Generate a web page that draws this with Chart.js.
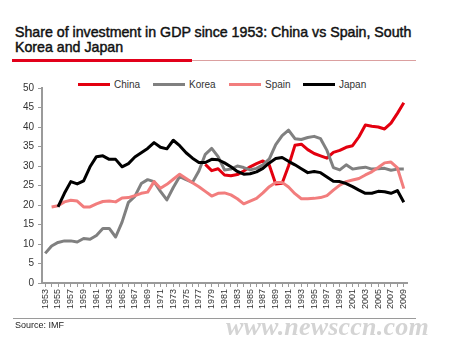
<!DOCTYPE html>
<html>
<head>
<meta charset="utf-8">
<script src="https://cdn.jsdelivr.net/npm/chart.js@4/dist/chart.umd.min.js"></script>
<style>
  html, body { margin: 0; padding: 0; background: #fff; }
  #wrap { position: relative; width: 450px; height: 342px; overflow: hidden; font-family: "Liberation Sans", Arial, sans-serif; }
  #chart { position: absolute; left: 0; top: 0; }
  .title { position: absolute; left: 15px; top: 25px; font-size: 14.2px; line-height: 15px; color: #111; white-space: nowrap; -webkit-text-stroke: 0.45px #111; }
  .rule-red { position: absolute; left: 12px; top: 59px; width: 180px; height: 3px; background: #e2001a; }
  .rule-thin { position: absolute; left: 192px; top: 60px; width: 224px; height: 1px; background: #dba0a0; }
  #legend { position: absolute; top: 78px; left: 0; font-size: 10px; color: #333; }
  #legend .item { position: absolute; display: flex; align-items: center; height: 12px; white-space: nowrap; }
  #legend .swatch { width: 32px; height: 3px; margin-right: 4px; }
  .rule-bottom { position: absolute; left: 13px; top: 318px; width: 403px; height: 1px; background: #9a9a9a; }
  .source { position: absolute; left: 15px; top: 320px; font-size: 9px; color: #222; }
  .mark { position: absolute; left: 226px; top: 312px; font-family: "Liberation Serif", "Times New Roman", serif; font-style: italic; font-weight: bold; font-size: 26px; color: #d4d4d4; letter-spacing: 0.2px; }
</style>
</head>
<body>
<div id="wrap">
  <div class="title">Share of investment in GDP since 1953: China vs Spain, South<br>Korea and Japan</div>
  <div class="rule-red"></div>
  <div class="rule-thin"></div>
  <div id="legend"></div>
  <canvas id="chart" width="450" height="342"></canvas>
  <div class="rule-bottom"></div>
  <div class="source">Source: IMF</div>
  <div class="mark">www.newsccn.com</div>
</div>
<script>
// investment as % of GDP, one value per year
const years = [];
for (let y = 1953; y <= 2009; y++) years.push(String(y));

const china = [
  null, null, null, null, null, null, null, null, null, null,
  null, null, null, null, null, null, null, null, null, null,
  null, null, null, null, null,
  30.4, 28.8, 29.3, 27.7, 27.5, 27.8, 28.7, 29.8, 30.6, 31.3,
  30.2, 25.4, 25.6, 30.0, 35.3, 35.6, 34.2, 33.2, 32.6, 32.0,
  33.5, 34.0, 34.8, 35.2, 37.5, 40.5, 40.2, 40.0, 39.5, 41.0,
  43.5, 46.2
];
const korea = [
  7.6, 9.5, 10.4, 10.8, 10.8, 10.5, 11.4, 11.2, 12.2, 14.0,
  14.0, 11.8, 15.6, 20.7, 22.2, 25.5, 26.5, 26.0, 23.5, 21.3,
  24.5, 27.3, 26.5, 25.8, 28.7, 33.0, 34.5, 32.4, 29.0, 29.2,
  30.0, 29.6, 29.0, 29.4, 30.3, 31.8, 35.5, 37.8, 39.2, 37.0,
  36.8, 37.3, 37.6, 37.0, 34.0, 29.6, 29.0, 30.3, 29.2, 29.5,
  29.7, 29.2, 29.3, 29.4, 28.9, 29.2, 29.2
];
const spain = [
  null, 19.5, 19.8, 20.8, 21.2, 21.0, 19.5, 19.5, 20.3, 20.9,
  21.0, 20.8, 21.8, 21.9, 22.4, 23.0, 23.3, 26.0, 24.3, 25.3,
  26.6, 27.9, 26.8, 25.7, 24.7, 23.5, 22.3, 23.0, 23.1, 22.6,
  21.6, 20.3, 21.0, 21.7, 23.1, 24.7, 25.8, 25.8, 24.6, 22.9,
  21.6, 21.6, 21.7, 21.9, 22.4, 23.8, 25.1, 26.0, 26.4, 26.8,
  27.7, 28.5, 29.6, 30.8, 31.0, 29.5, 24.2
];
const japan = [
  null, null, 19.5, 23.0, 26.0, 25.4, 26.2, 29.8, 32.4, 32.6,
  31.7, 31.7, 29.8, 30.6, 32.3, 33.4, 34.5, 36.0, 34.8, 34.4,
  36.6, 35.2, 33.4, 32.0, 30.9, 30.9, 31.7, 31.6, 30.8, 29.8,
  28.6, 27.9, 28.0, 28.5, 29.4, 30.8, 31.9, 32.2, 31.2, 30.3,
  29.3, 28.3, 28.6, 28.3, 27.2, 26.1, 26.0, 25.5, 24.7, 23.8,
  23.0, 23.0, 23.5, 23.4, 23.0, 23.7, 20.7
];

const seriesNames = ["China", "Korea", "Spain", "Japan"];
const seriesData = [china, korea, spain, japan];
const seriesColors = ["#e3000f", "#808080", "#f27d7d", "#000000"];
const legendX = [78, 153, 229, 303];

const yMin = 0, yMax = 50, yStep = 5;

const FONT = "'Liberation Sans', Arial, sans-serif";
const AXIS = "#9a9a9a";

// legend sits in the page, so it can overlap the top of the plot like the original
const legendEl = document.getElementById("legend");
seriesNames.forEach(function (name, i) {
  const item = document.createElement("div");
  item.className = "item";
  item.style.left = legendX[i] + "px";
  item.innerHTML = '<span class="swatch" style="background:' + seriesColors[i] + '"></span>' + name;
  legendEl.appendChild(item);
});

new Chart(document.getElementById("chart"), {
  type: "line",
  data: {
    labels: years,
    datasets: seriesNames.map(function (name, i) {
      return {
        label: name,
        data: seriesData[i],
        borderColor: seriesColors[i],
        backgroundColor: seriesColors[i],
        borderWidth: 3,
        pointRadius: 0,
        tension: 0,
        borderJoinStyle: "round",
        order: seriesNames.length - i
      };
    })
  },
  options: {
    responsive: false,
    animation: false,
    layout: { padding: { top: 88, right: 43, bottom: 0, left: 0 } },
    plugins: {
      legend: { display: false },
      tooltip: { enabled: false }
    },
    scales: {
      x: {
        offset: true,
        afterFit: function (s) { s.height = 59; },
        border: { color: AXIS, width: 2 },
        grid: { display: true, drawOnChartArea: false, color: AXIS, tickLength: 4, offset: false },
        ticks: {
          autoSkip: false,
          minRotation: 90,
          maxRotation: 90,
          padding: 2,
          color: "#333",
          font: { family: FONT, size: 9 },
          callback: function (v, i) { return i % 2 === 0 ? years[i] : ""; }
        }
      },
      y: {
        min: yMin,
        max: yMax,
        afterFit: function (s) { s.width = 42; },
        border: { color: AXIS, width: 2 },
        grid: { display: true, drawOnChartArea: false, color: AXIS, tickLength: 4 },
        ticks: {
          stepSize: yStep,
          padding: 4,
          color: "#333",
          font: { family: FONT, size: 10 }
        }
      }
    }
  }
});
</script>
</body>
</html>
